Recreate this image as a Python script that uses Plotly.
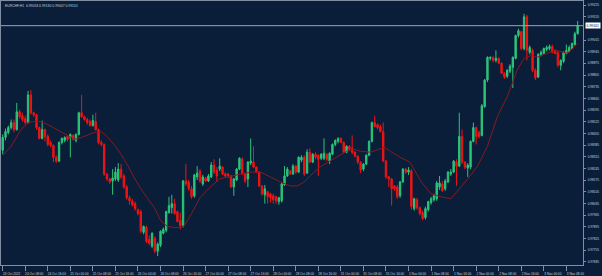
import plotly.graph_objects as go

SYMBOL = "EURCHF,H1"

# Prices in points (1 point = 0.00001)
OPEN_PTS = [
    98354, 98431, 98461, 98490, 98520, 98478, 98585, 98561, 98544, 98520,
    98686, 98579, 98567, 98490, 98425, 98478, 98437, 98401, 98383, 98312,
    98289, 98401, 98413, 98437, 98431, 98443, 98413, 98449, 98579, 98555,
    98538, 98526, 98502, 98526, 98478, 98401, 98389, 98212, 98182, 98170,
    98182, 98176, 98241, 98200, 98134, 98069, 98051, 98034, 97998, 97986,
    97862, 97891, 97820, 97779, 97826, 97749, 97785, 97856, 97874, 97980,
    98010, 98034, 97986, 97933, 97903, 98170, 98164, 98123, 98081, 98194,
    98229, 98152, 98188, 98170, 98194, 98265, 98235, 98241, 98253, 98212,
    98212, 98200, 98134, 98176, 98241, 98300, 98212, 98182, 98277, 98283,
    98253, 98223, 98140, 98087, 98105, 98093, 98081, 98075, 98046, 98051,
    98146, 98200, 98229, 98212, 98259, 98223, 98295, 98312, 98217, 98342,
    98283, 98330, 98324, 98306, 98306, 98330, 98289, 98330, 98389, 98407,
    98425, 98401, 98342, 98378, 98366, 98342, 98318, 98283, 98241, 98271,
    98324, 98407, 98520, 98508, 98496, 98466, 98289, 98194, 98182, 98140,
    98134, 98081, 98164, 98241, 98223, 98229, 98004, 98057, 98010, 97980,
    97951, 97998, 98040, 98057, 98063, 98134, 98152, 98123, 98164, 98212,
    98223, 98283, 98259, 98437, 98283, 98247, 98253, 98407, 98490, 98461,
    98443, 98615, 98775, 98905, 98911, 98893, 98905, 98876, 98816, 98798,
    98828, 98852, 98905, 99042, 99065, 98964, 99154, 98941, 98953, 98834,
    98793, 98923, 98935, 98959, 98964, 98976, 98953, 98941, 98864, 98887,
    98935, 98947, 98964, 98988, 99053,
]
HIGH_PTS = [
    98449, 98484, 98502, 98538, 98538, 98638, 98597, 98579, 98561, 98710,
    98715, 98585, 98573, 98496, 98532, 98484, 98449, 98413, 98389, 98324,
    98407, 98431, 98437, 98443, 98455, 98449, 98455, 98585, 98686, 98561,
    98549, 98538, 98567, 98579, 98484, 98413, 98395, 98217, 98188, 98241,
    98253, 98277, 98271, 98212, 98146, 98081, 98063, 98046, 98004, 97998,
    97903, 97903, 97844, 97862, 97838, 97802, 97874, 97891, 97992, 98075,
    98087, 98063, 97992, 97980, 98176, 98271, 98176, 98140, 98212, 98259,
    98241, 98206, 98194, 98212, 98283, 98300, 98253, 98306, 98259, 98223,
    98217, 98206, 98188, 98247, 98312, 98312, 98217, 98289, 98425, 98378,
    98259, 98229, 98146, 98146, 98111, 98099, 98093, 98081, 98075, 98158,
    98259, 98253, 98235, 98271, 98265, 98318, 98324, 98324, 98360, 98366,
    98336, 98342, 98330, 98336, 98425, 98336, 98342, 98395, 98419, 98431,
    98431, 98407, 98383, 98383, 98443, 98348, 98324, 98289, 98277, 98330,
    98413, 98526, 98561, 98514, 98508, 98520, 98295, 98200, 98188, 98146,
    98146, 98170, 98247, 98247, 98253, 98241, 98069, 98069, 98016, 97992,
    98016, 98051, 98075, 98093, 98170, 98200, 98170, 98182, 98229, 98241,
    98295, 98300, 98579, 98478, 98289, 98277, 98413, 98520, 98496, 98472,
    98632, 98781, 98917, 98917, 98917, 98953, 98911, 98881, 98822, 98840,
    98870, 98917, 99047, 99083, 99071, 99172, 99166, 98982, 98964, 98846,
    98935, 98953, 98970, 98982, 98988, 98988, 98959, 98947, 98899, 98947,
    98988, 98982, 99000, 99065, 99130,
]
LOW_PTS = [
    98330, 98413, 98449, 98478, 98461, 98472, 98544, 98526, 98508, 98514,
    98567, 98555, 98478, 98419, 98419, 98407, 98378, 98372, 98283, 98277,
    98283, 98389, 98401, 98407, 98312, 98413, 98401, 98443, 98549, 98532,
    98508, 98496, 98496, 98472, 98389, 98378, 98200, 98170, 98152, 98087,
    98170, 98164, 98182, 98123, 98057, 98028, 98016, 97992, 97963, 97856,
    97850, 97797, 97785, 97767, 97737, 97719, 97773, 97850, 97862, 97974,
    97974, 97968, 97921, 97880, 97891, 98140, 98111, 98063, 98069, 98176,
    98158, 98140, 98164, 98164, 98188, 98212, 98164, 98229, 98206, 98194,
    98188, 98129, 98081, 98170, 98235, 98206, 98158, 98134, 98265, 98247,
    98217, 98134, 98081, 98034, 98034, 98040, 98034, 98034, 98028, 98040,
    98140, 98194, 98206, 98206, 98212, 98217, 98283, 98200, 98212, 98277,
    98277, 98300, 98200, 98295, 98295, 98289, 98271, 98324, 98378, 98395,
    98395, 98336, 98336, 98348, 98330, 98312, 98271, 98217, 98229, 98265,
    98318, 98401, 98490, 98478, 98461, 98283, 98182, 98134, 98022, 98111,
    98063, 98069, 98158, 98212, 98206, 97998, 97992, 97998, 97963, 97933,
    97939, 97986, 98028, 98046, 98051, 98117, 98105, 98111, 98158, 98200,
    98217, 98140, 98253, 98271, 98241, 98194, 98241, 98401, 98389, 98425,
    98437, 98609, 98763, 98893, 98881, 98881, 98870, 98810, 98781, 98787,
    98816, 98727, 98899, 99030, 98953, 98953, 98893, 98929, 98822, 98775,
    98787, 98917, 98929, 98947, 98953, 98935, 98929, 98852, 98834, 98876,
    98929, 98941, 98959, 98982, 99047,
]
CLOSE_PTS = [
    98431, 98466, 98490, 98520, 98478, 98585, 98555, 98538, 98520, 98686,
    98579, 98567, 98490, 98425, 98478, 98437, 98389, 98383, 98312, 98289,
    98401, 98425, 98431, 98419, 98449, 98419, 98449, 98579, 98555, 98538,
    98520, 98502, 98532, 98478, 98401, 98389, 98212, 98182, 98164, 98188,
    98223, 98241, 98194, 98134, 98069, 98051, 98028, 98004, 97974, 97868,
    97897, 97808, 97797, 97856, 97749, 97791, 97868, 97880, 97986, 98022,
    98034, 97974, 97927, 97903, 98170, 98152, 98123, 98075, 98206, 98217,
    98170, 98194, 98170, 98200, 98265, 98223, 98200, 98259, 98212, 98200,
    98200, 98134, 98182, 98241, 98306, 98212, 98170, 98283, 98289, 98253,
    98223, 98140, 98093, 98123, 98075, 98069, 98057, 98051, 98069, 98152,
    98200, 98241, 98212, 98259, 98223, 98312, 98312, 98212, 98342, 98283,
    98330, 98312, 98300, 98330, 98336, 98300, 98336, 98389, 98413, 98425,
    98401, 98342, 98378, 98360, 98342, 98318, 98283, 98235, 98271, 98324,
    98407, 98520, 98496, 98490, 98466, 98289, 98194, 98182, 98123, 98123,
    98075, 98164, 98241, 98223, 98235, 98016, 98063, 98010, 97974, 97945,
    98004, 98046, 98063, 98081, 98158, 98158, 98111, 98170, 98223, 98223,
    98289, 98259, 98437, 98283, 98253, 98265, 98407, 98490, 98437, 98437,
    98621, 98775, 98911, 98911, 98893, 98905, 98876, 98816, 98793, 98834,
    98858, 98911, 99042, 99071, 98964, 99154, 98953, 98970, 98834, 98787,
    98929, 98941, 98964, 98970, 98976, 98941, 98935, 98864, 98893, 98941,
    98953, 98970, 98994, 99053, 99101,
]

# Moving average line: bar position and value (points)
MA_BAR = [0, 3, 6.5, 9, 11, 13.5, 16, 18.5, 21, 23, 25.5, 28, 30, 32.5, 35, 37,
          39.5, 42, 44.5, 46.5, 49, 51.5, 54, 56, 58.5, 61, 63, 64.5, 67, 70,
          74, 77, 81, 84.5, 88, 91.5, 95, 98.5, 102, 104.5, 107, 109, 112.5,
          116, 120, 122, 124.5, 127, 130.5, 134, 135.5, 137.5, 141, 144.5,
          146.5, 148.5, 152, 155.5, 159, 162, 165, 168.5, 172, 175.5, 179,
          182.5, 185, 187.5, 189.5, 193, 196.5, 200.5, 202.5, 204]
MA_PTS = [98324, 98378, 98478, 98520, 98526, 98526, 98508, 98484, 98461, 98443,
          98419, 98431, 98443, 98461, 98466, 98437, 98389, 98330, 98259, 98194,
          98123, 98063, 98004, 97933, 97897, 97891, 97891, 97903, 97974, 98069,
          98140, 98182, 98200, 98212, 98223, 98223, 98194, 98164, 98140, 98140,
          98164, 98200, 98253, 98289, 98330, 98348, 98360, 98348, 98342, 98360,
          98372, 98348, 98312, 98283, 98223, 98164, 98093, 98075, 98063, 98123,
          98182, 98259, 98378, 98555, 98674, 98834, 98905, 98923, 98911, 98935,
          98953, 98935, 98970, 98994]

X_TICK_LABELS = ["24 Oct 2022", "24 Oct 08:00", "24 Oct 16:00", "25 Oct 00:00",
                 "25 Oct 08:00", "25 Oct 16:00", "26 Oct 00:00", "26 Oct 08:00",
                 "26 Oct 16:00", "27 Oct 00:00", "27 Oct 08:00", "27 Oct 16:00",
                 "28 Oct 00:00", "28 Oct 08:00", "28 Oct 16:00", "31 Oct 00:00",
                 "31 Oct 08:00", "31 Oct 16:00", "1 Nov 00:00", "1 Nov 08:00",
                 "1 Nov 16:00", "2 Nov 00:00", "2 Nov 08:00", "2 Nov 16:00",
                 "3 Nov 00:00", "3 Nov 08:00"]
BARS_PER_LABEL = 8
Y_TICKS = [0.97685, 0.97755, 0.97825, 0.97895, 0.97965, 0.98035, 0.98105,
           0.98175, 0.98245, 0.98315, 0.98385, 0.98455, 0.98525, 0.98595,
           0.98665, 0.98735, 0.98805, 0.98875, 0.98945, 0.99015, 0.99155,
           0.99225]

opens = [v / 1e5 for v in OPEN_PTS]
highs = [v / 1e5 for v in HIGH_PTS]
lows = [v / 1e5 for v in LOW_PTS]
closes = [v / 1e5 for v in CLOSE_PTS]
ma = [v / 1e5 for v in MA_PTS]
bars = list(range(len(opens)))

BG = "#0a1e39"
UP = "#2cc47a"
DOWN = "#f01414"
AXIS = "#7f8ea3"
TXT = "#c9d2dc"
FONT = "Liberation Sans, Arial, sans-serif"

fig = go.Figure()
fig.add_trace(go.Candlestick(
    x=bars, open=opens, high=highs, low=lows, close=closes,
    increasing=dict(line=dict(color=UP, width=1), fillcolor=UP),
    decreasing=dict(line=dict(color=DOWN, width=1), fillcolor=DOWN),
    whiskerwidth=0, hoverinfo="skip",
))
fig.add_trace(go.Scatter(x=MA_BAR, y=ma, mode="lines",
                         line=dict(color="#861a1e", width=1), hoverinfo="skip"))

last = closes[-1]
fig.add_shape(type="line", xref="paper", x0=0, x1=1, y0=last, y1=last,
              line=dict(color="#9aa6b6", width=1))
fig.add_annotation(xref="paper", x=1.003, xanchor="left", y=last, yanchor="middle",
                   text=f"{last:.5f}", showarrow=False, bgcolor="#ffffff",
                   font=dict(size=3.4, color="#000000", family=FONT), borderpad=0.6)
fig.add_annotation(xref="paper", yref="paper", x=0.004, y=0.995, xanchor="left",
                   yanchor="top", showarrow=False,
                   text=f"{SYMBOL}  {opens[-1]:.5f} {highs[-1]:.5f} {lows[-1]:.5f} {closes[-1]:.5f}",
                   font=dict(size=3.4, color=TXT, family=FONT))

fig.update_layout(
    width=602, height=276, margin=dict(l=0, r=19, t=0, b=9),
    paper_bgcolor=BG, plot_bgcolor=BG, showlegend=False,
    font=dict(family=FONT, color=TXT),
    xaxis=dict(
        range=[-0.6, 205.9], rangeslider=dict(visible=False),
        tickmode="array",
        tickvals=[i * BARS_PER_LABEL for i in range(len(X_TICK_LABELS))],
        ticktext=X_TICK_LABELS, tickfont=dict(size=3.2, color=TXT),
        ticks="outside", ticklen=5, tickcolor=AXIS, tickwidth=1,
        ticklabelshift=9, ticklabelstandoff=0,
        showgrid=False, zeroline=False, showline=True, linecolor=AXIS,
        linewidth=1, mirror=True,
    ),
    yaxis=dict(
        side="right", range=[0.97666, 0.99249], tickmode="array",
        tickvals=Y_TICKS, tickformat=".5f", tickfont=dict(size=3.2, color=TXT),
        ticks="outside", ticklen=2, tickcolor=AXIS, ticklabelstandoff=1,
        showgrid=False, zeroline=False, showline=True, linecolor=AXIS,
        linewidth=1, mirror=True,
    ),
)

fig.write_html("out.html")
